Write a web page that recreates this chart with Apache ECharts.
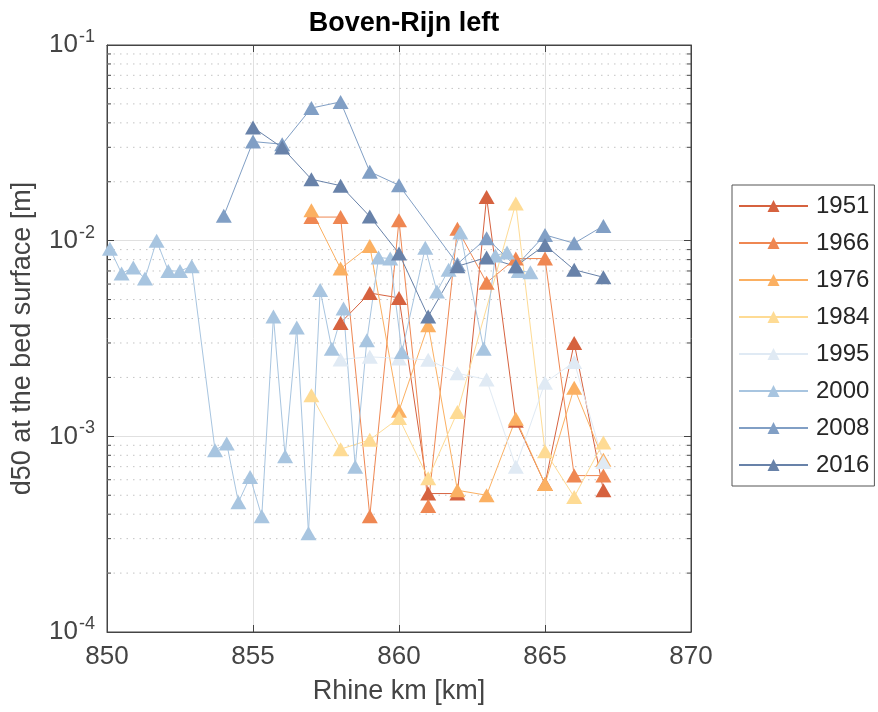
<!DOCTYPE html>
<html>
<head>
<meta charset="utf-8">
<script src="https://cdn.jsdelivr.net/npm/echarts@6/dist/echarts.min.js"></script>
<style>
  html, body { margin: 0; padding: 0; background: #fff; }
  #chart { width: 878px; height: 712px; }
</style>
</head>
<body>
<div id="chart"></div>
<script>
// river km and d50 [m] per survey year
const km1951 = [858, 859, 860, 861, 862, 863, 864, 865, 866, 867];
const d1951 = [0.0038, 0.0054, 0.0051, 0.00051, 0.00051, 0.0167, 0.0012, 0.00057, 0.0030, 0.00053];

const km1966 = [857, 858, 859, 860, 861, 862, 863, 864, 865, 866, 867];
const d1966 = [0.0132, 0.0132, 0.00039, 0.0127, 0.00044, 0.0115, 0.0061, 0.0081, 0.0081, 0.00063, 0.00063];

const km1976 = [857, 858, 859, 860, 861, 862, 863, 864, 865, 866, 867];
const d1976 = [0.0143, 0.0072, 0.0094, 0.00135, 0.0037, 0.00053, 0.00050, 0.00123, 0.00057, 0.00177, 0.00076];

const km1984 = [857, 858, 859, 860, 861, 862, 864, 865, 866, 867];
const d1984 = [0.00162, 0.00086, 0.00096, 0.00124, 0.00061, 0.00133, 0.0155, 0.00084, 0.00049, 0.00093];

const km1995 = [858, 859, 860, 861, 862, 863, 864, 865, 866, 867];
const d1995 = [0.00247, 0.00255, 0.0025, 0.00246, 0.0021, 0.00195, 0.0007, 0.00188, 0.0024, 0.00074];

const km2000 = [850.1, 850.5, 850.9, 851.3, 851.7, 852.1, 852.5, 852.9, 853.7, 854.1, 854.5, 854.9,
  855.3, 855.7, 856.1, 856.5, 856.9, 857.3, 857.7, 858.1, 858.5, 858.9, 859.3, 859.7, 860.1,
  860.9, 861.3, 861.7, 862.1, 862.9, 863.3, 863.7, 864.1, 864.5];
const d2000 = [0.0091, 0.0068, 0.0073, 0.0064, 0.0100, 0.0070, 0.0070, 0.0074, 0.00085, 0.00092, 0.00046, 0.00062,
  0.00039, 0.0041, 0.00079, 0.0036, 0.00032, 0.0056, 0.0028, 0.0045, 0.00070, 0.0031, 0.0082, 0.0081, 0.0027,
  0.0092, 0.0055, 0.0071, 0.0110, 0.0028, 0.0084, 0.0087, 0.0070, 0.0069];

const km2008 = [854, 855, 856, 857, 858, 859, 860, 862, 863, 864, 865, 866, 867];
const d2008 = [0.0134, 0.0321, 0.0311, 0.0476, 0.0512, 0.0225, 0.0192, 0.0076, 0.0103, 0.0074, 0.0107, 0.0097, 0.0119];

const km2016 = [855, 856, 857, 858, 859, 860, 861, 862, 863, 864, 865, 866, 867];
const d2016 = [0.0379, 0.0299, 0.0206, 0.0191, 0.0133, 0.0086, 0.0041, 0.0074, 0.0082, 0.0074, 0.0095, 0.0071, 0.0065];

const years = ['1951', '1966', '1976', '1984', '1995', '2000', '2008', '2016'];
const kms = [km1951, km1966, km1976, km1984, km1995, km2000, km2008, km2016];
const d50s = [d1951, d1966, d1976, d1984, d1995, d2000, d2008, d2016];
const colors = ['#d6623f', '#ef8752', '#fbb062', '#fedb94', '#e0eaf4', '#a8c5e0', '#819fc5', '#6882a9'];

const xMin = 850, xMax = 870, xStep = 5;
const yTicks = [0.0001, 0.001, 0.01, 0.1];
const expLabels = { '0.0001': '-4', '0.001': '-3', '0.01': '-2', '0.1': '-1' };

// minor log ticks 2..9 inside each decade
const minorTicks = [];
yTicks.slice(0, -1).forEach(d => {
  for (let m = 2; m <= 9; m++) minorTicks.push(+(d * m).toPrecision(3));
});

const font = '"Liberation Sans", Arial, Helvetica, sans-serif';
const axisCol = '#444';

const chart = echarts.init(document.getElementById('chart'));

const lineSeries = years.map((y, i) => ({
  name: y,
  type: 'line',
  z: 3,
  data: kms[i].map((k, j) => [k, d50s[i][j]]),
  symbol: 'triangle',
  symbolSize: [16, 14],
  lineStyle: { color: colors[i], width: 1 },
  itemStyle: { color: colors[i] },
  emphasis: { disabled: true }
}));

// dotted minor grid plus the short inner minor ticks on both y sides
const minorSeries = {
  type: 'custom',
  z: 1,
  silent: true,
  data: minorTicks.map(v => [xMin, v]),
  renderItem: (params, api) => {
    const v = api.value(1);
    const a = api.coord([xMin, v]);
    const b = api.coord([xMax, v]);
    return {
      type: 'group',
      children: [
        { type: 'line', shape: { x1: a[0], y1: a[1], x2: b[0], y2: b[1] },
          style: { stroke: '#c4c4c4', lineWidth: 1, lineDash: [1.5, 5] } },
        { type: 'line', shape: { x1: a[0], y1: a[1], x2: a[0] + 4, y2: a[1] },
          style: { stroke: axisCol, lineWidth: 1 } },
        { type: 'line', shape: { x1: b[0], y1: b[1], x2: b[0] - 4, y2: b[1] },
          style: { stroke: axisCol, lineWidth: 1 } }
      ]
    };
  }
};

const yAxisBase = {
  type: 'log',
  logBase: 10,
  min: yTicks[0],
  max: yTicks[yTicks.length - 1],
  axisLine: { show: true, lineStyle: { color: axisCol, width: 1 } },
  axisTick: { show: true, inside: true, length: 7, lineStyle: { color: axisCol } },
  minorTick: { show: false },
  minorSplitLine: { show: false }
};

const option = {
  backgroundColor: '#fff',
  animation: false,
  title: {
    text: 'Boven-Rijn left',
    left: 399,
    top: 5,
    textAlign: 'center',
    textStyle: { fontFamily: font, fontSize: 27, fontWeight: 'bold', color: '#000' }
  },
  legend: {
    orient: 'vertical',
    left: 732,
    top: 185,
    padding: [9, 5, 9, 6],
    itemWidth: 69,
    itemHeight: 15,
    itemGap: 13,
    backgroundColor: '#fff',
    borderColor: '#555',
    borderWidth: 1,
    borderRadius: 0,
    textStyle: { fontFamily: font, fontSize: 24, color: '#262626', padding: [0, 0, 0, 3] },
    data: years
  },
  grid: { left: 107, right: 187, top: 45, bottom: 80, show: true, borderColor: axisCol, borderWidth: 1 },
  xAxis: [{
    type: 'value',
    min: xMin,
    max: xMax,
    interval: xStep,
    name: 'Rhine km [km]',
    nameLocation: 'middle',
    nameGap: 46,
    nameTextStyle: { fontFamily: font, fontSize: 27, color: axisCol },
    axisLine: { lineStyle: { color: axisCol } },
    axisTick: { inside: true, length: 7, lineStyle: { color: axisCol } },
    axisLabel: { fontFamily: font, fontSize: 26, color: axisCol, margin: 12 },
    splitLine: { show: true, lineStyle: { color: '#e0e0e0', width: 1 } }
  }, {
    type: 'value',
    position: 'top',
    min: xMin,
    max: xMax,
    interval: xStep,
    axisLine: { lineStyle: { color: axisCol } },
    axisTick: { inside: true, length: 7, lineStyle: { color: axisCol } },
    axisLabel: { show: false },
    splitLine: { show: false }
  }],
  yAxis: [Object.assign({}, yAxisBase, {
    name: 'd50 at the bed surface [m]',
    nameLocation: 'middle',
    nameGap: 71,
    nameTextStyle: { fontFamily: font, fontSize: 27, color: axisCol },
    axisLabel: {
      margin: 12,
      formatter: v => '{b|10}{s|' + (expLabels[String(v)] || '') + '}',
      rich: {
        b: { fontFamily: font, fontSize: 26, color: axisCol },
        s: { fontFamily: font, fontSize: 18, color: axisCol, padding: [0, 0, 16, 1] }
      }
    },
    splitLine: { show: true, lineStyle: { color: '#e0e0e0', width: 1 } }
  }), Object.assign({}, yAxisBase, {
    position: 'right',
    axisLabel: { show: false },
    splitLine: { show: false }
  })],
  series: [minorSeries].concat(lineSeries)
};

chart.setOption(option);
</script>
</body>
</html>
